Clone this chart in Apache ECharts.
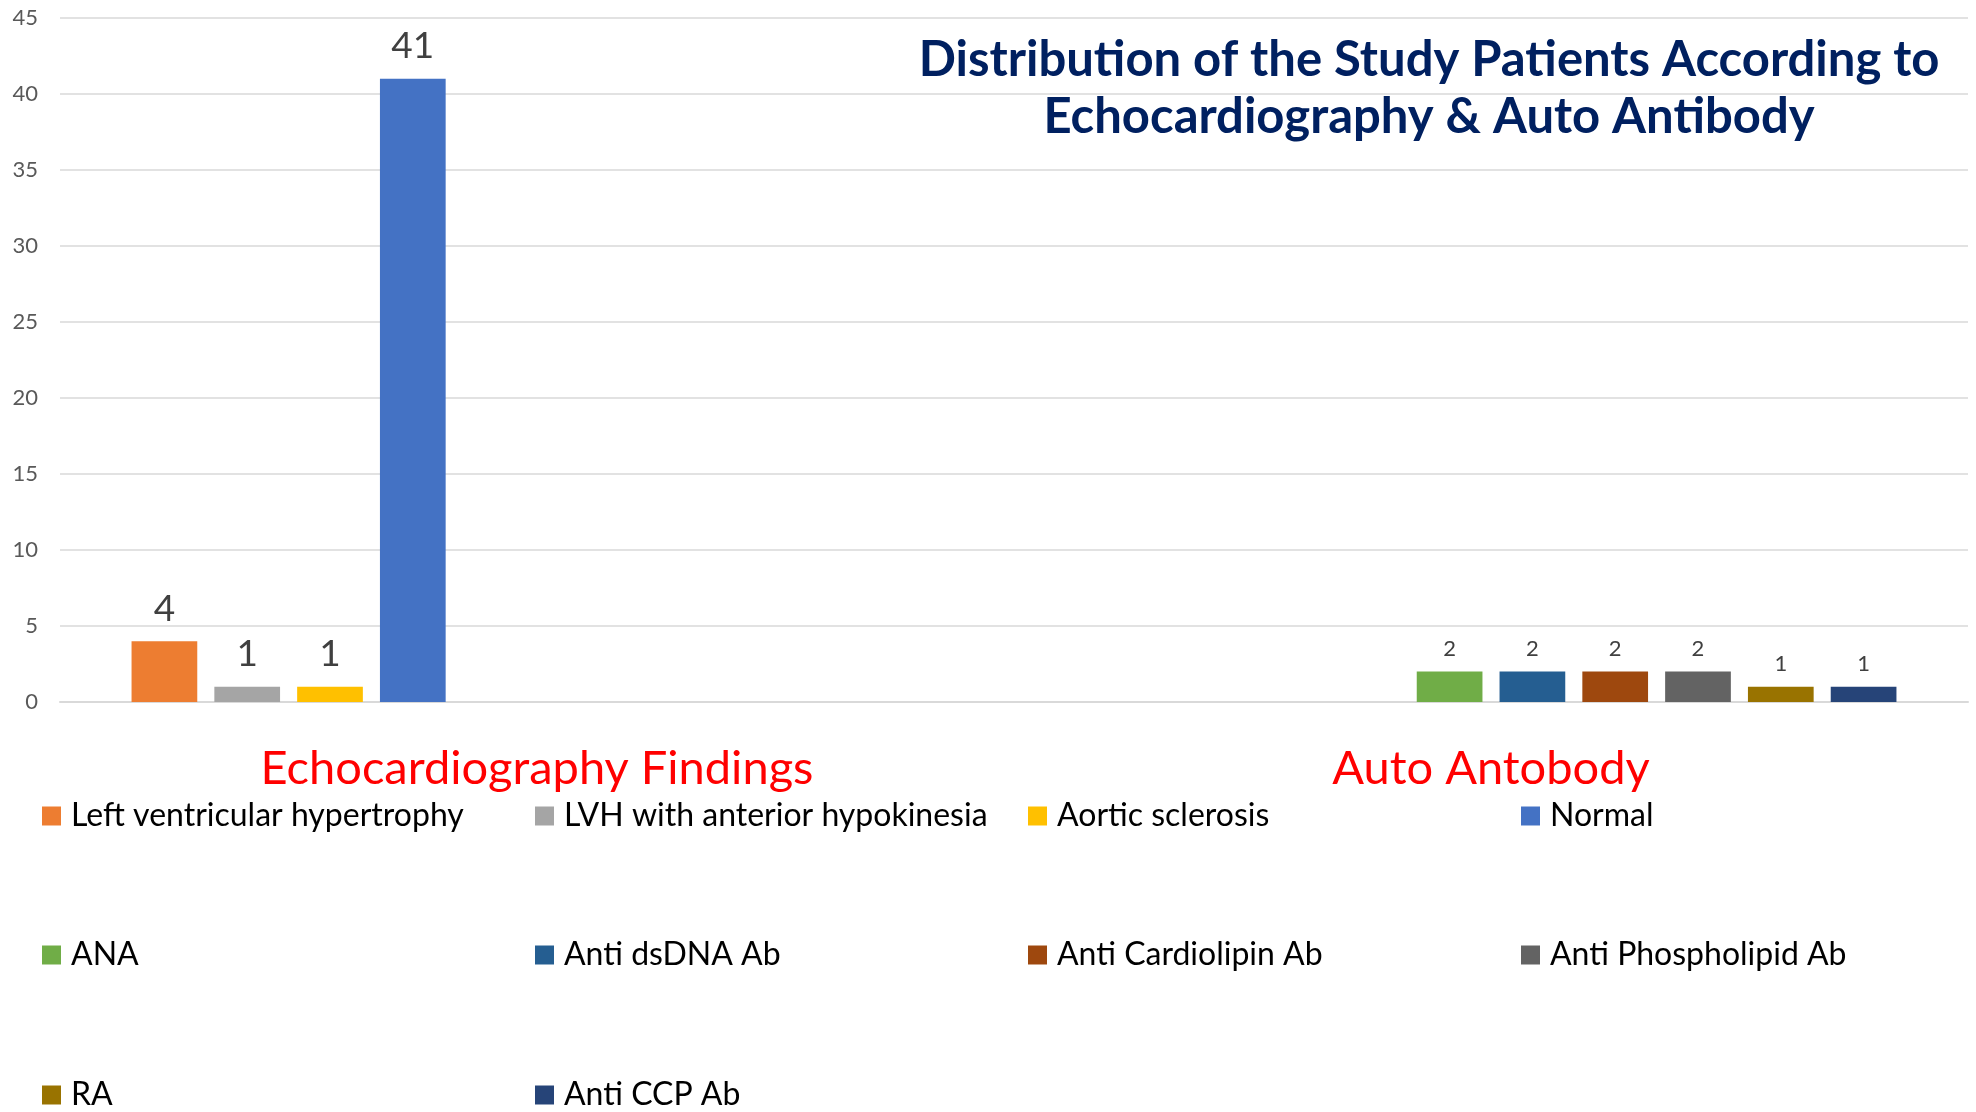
<!DOCTYPE html>
<html>
<head>
<meta charset="utf-8">
<script src="https://cdn.jsdelivr.net/npm/echarts@6/dist/echarts.min.js"></script>
<style>
html,body{margin:0;padding:0;background:#fff;}
#c{width:1976px;height:1112px;}
</style>
</head>
<body>
<div id="c"></div>
<script>
var categories = ['Echocardiography Findings', 'Auto Antobody'];
var seriesNames = ['Left ventricular hypertrophy', 'LVH with anterior hypokinesia', 'Aortic sclerosis', 'Normal',
  'ANA', 'Anti dsDNA Ab', 'Anti Cardiolipin Ab', 'Anti Phospholipid Ab', 'RA', 'Anti CCP Ab'];
var echoValues = [4, 1, 1, 41];
var antibodyValues = [2, 2, 2, 2, 1, 1];
var colors = ['#ED7D31', '#A5A5A5', '#FFC000', '#4472C4', '#70AD47', '#255E91', '#9E480E', '#636363', '#997300', '#264478'];
var yTicks = { min: 0, max: 45, interval: 5 };
var titleLines = ['Distribution of the Study Patients According to', 'Echocardiography & Auto Antibody'];

var FONT = 'Lato, "Open Sans", sans-serif';

var series = seriesNames.map(function (name, i) {
  var isEcho = i < echoValues.length;
  var data = isEcho ? [echoValues[i], '-'] : ['-', antibodyValues[i - echoValues.length]];
  return {
    name: name,
    type: 'bar',
    data: data,
    itemStyle: { color: colors[i] },
    barGap: '26%',
    barCategoryGap: '15%',
    label: {
      show: true,
      position: 'top',
      distance: isEcho ? 14 : 12,
      color: '#404040',
      fontFamily: FONT,
      fontSize: isEcho ? 37 : 22
    }
  };
});

var rows = [seriesNames.slice(0, 4), seriesNames.slice(4, 8), seriesNames.slice(8, 10)];
var rowTops = [794, 933, 1073];
var legends = rows.map(function (r, k) {
  return {
    data: r,
    left: 37,
    top: rowTops[k],
    width: 1960,
    orient: 'horizontal',
    icon: 'rect',
    itemWidth: 19,
    itemHeight: 19,
    itemGap: 24,
    selectedMode: false,
    textStyle: {
      fontFamily: FONT,
      fontSize: 32,
      color: '#000',
      width: 440,
      overflow: 'none',
      lineHeight: 34,
      padding: [0, 0, 0, 5]
    }
  };
});

var chart = echarts.init(document.getElementById('c'), null, { renderer: 'canvas' });
chart.setOption({
  backgroundColor: '#fff',
  animation: false,
  color: colors,
  title: {
    text: titleLines.join('\n'),
    left: 1424,
    top: 27,
    textAlign: 'center',
    textStyle: {
      fontFamily: FONT,
      fontWeight: 'bold',
      fontSize: 49,
      lineHeight: 57,
      color: '#002060'
    }
  },
  legend: legends,
  grid: { left: 60, right: 8, top: 18, bottom: 410, containLabel: false },
  xAxis: {
    type: 'category',
    data: categories,
    axisLine: { lineStyle: { color: '#D9D9D9', width: 2 } },
    axisTick: { show: false },
    axisLabel: {
      color: '#FF0000',
      fontFamily: FONT,
      fontSize: 47,
      margin: 43
    }
  },
  yAxis: {
    type: 'value',
    min: yTicks.min,
    max: yTicks.max,
    interval: yTicks.interval,
    axisLine: { show: false },
    axisTick: { show: false },
    splitLine: { lineStyle: { color: '#D9D9D9', width: 1.5 } },
    axisLabel: {
      color: '#595959',
      fontFamily: FONT,
      fontSize: 22,
      margin: 22
    }
  },
  series: series
});
</script>
</body>
</html>
